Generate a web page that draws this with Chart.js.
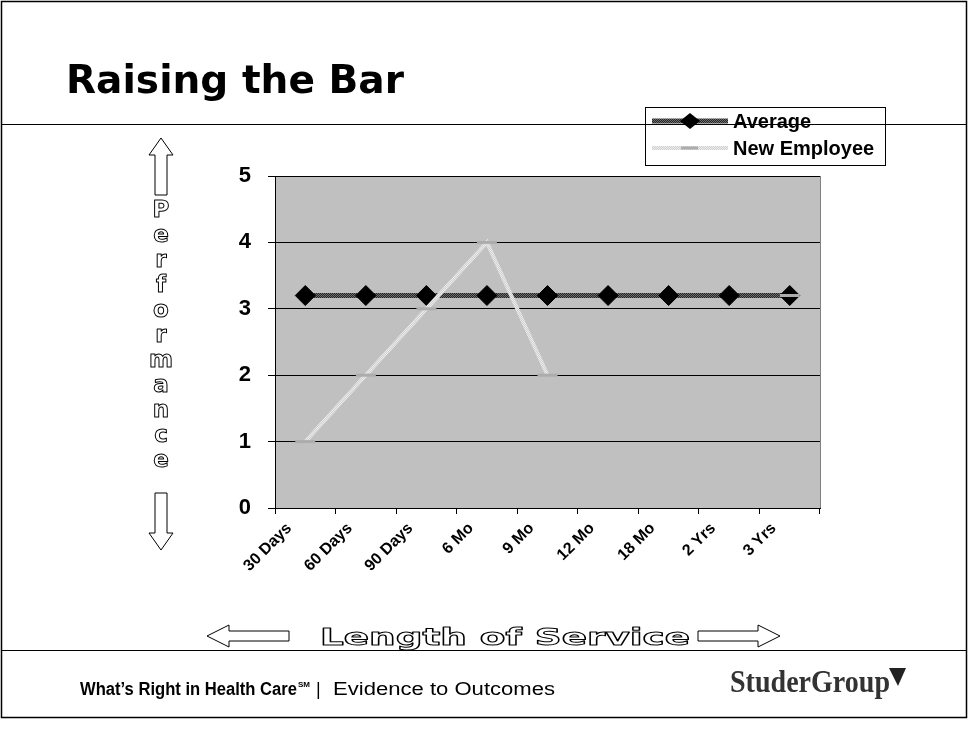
<!DOCTYPE html>
<html>
<head>
<meta charset="utf-8">
<title>Raising the Bar</title>
<script src="https://cdn.jsdelivr.net/npm/chart.js@4.4.0/dist/chart.umd.min.js"></script>
<style>
  html, body { margin: 0; padding: 0; background: #fff; }
  canvas { display: block; }
</style>
</head>
<body>
<canvas id="myChart" width="969" height="729"></canvas>
<script>
// service periods and performance scores
const periods = ['30 Days', '60 Days', '90 Days', '6 Mo', '9 Mo', '12 Mo', '18 Mo', '2 Yrs', '3 Yrs'];
const averageScores = [3.2, 3.2, 3.2, 3.2, 3.2, 3.2, 3.2, 3.2, 3.2];
const newEmployeeScores = [1, 2, 3, 4, 2, null, null, null, 3.2];
const performanceTicks = [0, 1, 2, 3, 4, 5];

const SANS = '"Liberation Sans", Arial, sans-serif';
const WIDE = '"DejaVu Sans", sans-serif';

function checker(c1, c2) {
    const p = document.createElement('canvas');
    p.width = 2; p.height = 2;
    const g = p.getContext('2d');
    g.fillStyle = c1; g.fillRect(0, 0, 2, 2);
    g.fillStyle = c2; g.fillRect(0, 0, 1, 1); g.fillRect(1, 1, 1, 1);
    return g.createPattern(p, 'repeat');
}

const avgStroke = checker('#262626', '#6e6e6e');
const newStroke = checker('#d0d0d0', '#ececec');

// text squeezed or stretched to a given width
function fitText(ctx, text, x, y, font, width) {
    ctx.save();
    ctx.font = font;
    ctx.translate(x, y);
    if (width) ctx.scale(width / ctx.measureText(text).width, 1);
    ctx.fillText(text, 0, 0);
    ctx.restore();
}

function outlineText(ctx, text, x, y, font, width) {
    ctx.save();
    ctx.font = font;
    ctx.translate(x, y);
    if (width) ctx.scale(width / ctx.measureText(text).width, 1);
    ctx.lineJoin = 'round';
    ctx.fillStyle = '#fff';
    ctx.strokeStyle = '#000';
    ctx.lineWidth = 1;
    ctx.fillText(text, 0, 0);
    ctx.strokeText(text, 0, 0);
    ctx.restore();
}

// hollow block arrow; tip at (tx,ty), tail at distance len behind it
function blockArrow(ctx, tx, ty, dir, len, shaft, head, headLen) {
    const pts = [[0, 0], [headLen, head], [headLen, shaft], [len, shaft],
                 [len, -shaft], [headLen, -shaft], [headLen, -head]];
    ctx.save();
    ctx.translate(tx, ty);
    const ang = { left: 0, right: Math.PI, up: Math.PI / 2, down: -Math.PI / 2 }[dir];
    ctx.rotate(ang);
    ctx.beginPath();
    pts.forEach((p, i) => i ? ctx.lineTo(p[0], p[1]) : ctx.moveTo(p[0], p[1]));
    ctx.closePath();
    ctx.fillStyle = '#fff';
    ctx.fill();
    ctx.strokeStyle = '#000';
    ctx.lineWidth = 1;
    ctx.stroke();
    ctx.restore();
}

function drawLegend(ctx, chart) {
    const x0 = 645.5, y0 = 107.5, w = 240, h = 58;
    ctx.fillStyle = '#fff';
    ctx.fillRect(x0, y0, w, h);
    ctx.strokeStyle = '#000';
    ctx.lineWidth = 1;
    ctx.strokeRect(x0, y0, w, h);

    const rows = [121, 148];
    chart.data.datasets.forEach((ds, i) => {
        const y = rows[i];
        ctx.save();
        ctx.strokeStyle = ds.borderColor;
        ctx.lineWidth = ds.borderWidth;
        ctx.beginPath();
        ctx.moveTo(652, y);
        ctx.lineTo(728, y);
        ctx.stroke();
        if (ds.pointStyle === 'rectRot') {
            ctx.fillStyle = '#000';
            ctx.beginPath();
            ctx.moveTo(680, y); ctx.lineTo(690, y - 8); ctx.lineTo(700, y); ctx.lineTo(690, y + 8);
            ctx.closePath();
            ctx.fill();
        } else {
            ctx.strokeStyle = ds.pointBorderColor;
            ctx.lineWidth = ds.pointBorderWidth;
            ctx.beginPath();
            ctx.moveTo(681, y); ctx.lineTo(698, y);
            ctx.stroke();
        }
        ctx.fillStyle = '#000';
        ctx.font = 'bold 20px ' + SANS;
        ctx.textBaseline = 'middle';
        ctx.textAlign = 'left';
        ctx.fillText(ds.label, 733, y + 1);
        ctx.restore();
    });
}

const slidePlugin = {
    id: 'slide',
    beforeDraw(chart) {
        const ctx = chart.ctx;
        const a = chart.chartArea;
        ctx.save();
        ctx.fillStyle = '#fff';
        ctx.fillRect(0, 0, chart.width, chart.height);
        ctx.fillStyle = '#c0c0c0';
        ctx.fillRect(a.left, a.top, a.right - a.left, a.bottom - a.top);
        ctx.restore();
    },
    afterDraw(chart) {
        const ctx = chart.ctx;
        const a = chart.chartArea;
        ctx.save();

        // right edge of plot area
        ctx.strokeStyle = '#808080';
        ctx.lineWidth = 1;
        ctx.beginPath();
        ctx.moveTo(a.right + 0.5, a.top);
        ctx.lineTo(a.right + 0.5, a.bottom);
        ctx.stroke();

        // title
        ctx.fillStyle = '#000';
        ctx.textBaseline = 'alphabetic';
        fitText(ctx, 'Raising the Bar', 66, 93, 'bold 39px ' + WIDE, 338);

        drawLegend(ctx, chart);

        // slide frame and rules
        ctx.strokeStyle = '#000';
        ctx.lineWidth = 1;
        ctx.beginPath();
        ctx.moveTo(2, 124.5); ctx.lineTo(966, 124.5);
        ctx.moveTo(2, 650.5); ctx.lineTo(966, 650.5);
        ctx.stroke();
        ctx.lineWidth = 1.5;
        ctx.strokeRect(1.5, 1.5, 965, 716);

        // vertical axis caption
        blockArrow(ctx, 161, 138, 'up', 57, 6, 12, 17);
        blockArrow(ctx, 161, 550, 'down', 57, 6, 12, 17);
        ctx.textAlign = 'center';
        ctx.textBaseline = 'middle';
        'Performance'.split('').forEach((ch, i) => {
            outlineText(ctx, ch, 161, 211 + i * 25, 'bold 23px ' + WIDE);
        });

        // horizontal axis caption
        blockArrow(ctx, 207, 636, 'left', 82, 5, 11, 22);
        blockArrow(ctx, 780, 636, 'right', 82, 5, 11, 22);
        ctx.textAlign = 'left';
        ctx.textBaseline = 'alphabetic';
        outlineText(ctx, 'Length of Service', 320, 645, 'bold 23px ' + WIDE, 370);

        // footer
        ctx.fillStyle = '#000';
        fitText(ctx, 'What\u2019s Right in Health Care', 80, 695, 'bold 18px ' + SANS, 217);
        ctx.font = 'bold 8px ' + SANS;
        ctx.fillText('SM', 298, 687);
        ctx.font = '18px ' + SANS;
        ctx.fillText('|', 316, 695);
        fitText(ctx, 'Evidence to Outcomes', 333, 695, '18px ' + SANS, 222);

        // logo wordmark
        ctx.fillStyle = '#333';
        fitText(ctx, 'StuderGroup', 730, 692, 'bold 31px "Liberation Serif", serif', 160);
        ctx.fillStyle = '#222';
        ctx.beginPath();
        ctx.moveTo(889, 668); ctx.lineTo(906, 668); ctx.lineTo(898, 686);
        ctx.closePath();
        ctx.fill();

        ctx.restore();
    }
};

new Chart(document.getElementById('myChart'), {
    type: 'line',
    data: {
        labels: periods,
        datasets: [{
            label: 'Average',
            data: averageScores,
            borderColor: avgStroke,
            borderWidth: 5,
            pointStyle: 'rectRot',
            pointRadius: 10,
            pointBackgroundColor: '#000',
            pointBorderColor: '#000',
            pointBorderWidth: 1,
            order: 1
        }, {
            label: 'New Employee',
            data: newEmployeeScores,
            borderColor: newStroke,
            borderWidth: 4,
            pointStyle: 'line',
            pointRadius: 10,
            pointBorderColor: '#acacac',
            pointBorderWidth: 3,
            spanGaps: false,
            order: 0
        }]
    },
    options: {
        responsive: false,
        animation: false,
        events: [],
        layout: { padding: { left: 215, top: 176, right: 149, bottom: 101 } },
        plugins: { legend: { display: false }, tooltip: { enabled: false } },
        scales: {
            x: {
                offset: true,
                grid: { offset: true, drawOnChartArea: false, drawTicks: true, tickLength: 6, color: '#000' },
                border: { display: true, color: '#000', width: 1 },
                ticks: {
                    color: '#000',
                    font: { family: SANS, size: 16, weight: 'bold' },
                    minRotation: 45,
                    maxRotation: 45,
                    autoSkip: false,
                    labelOffset: -16,
                    padding: 5
                },
                afterFit(scale) { scale.height = 120; }
            },
            y: {
                min: 0,
                max: 5,
                afterBuildTicks(scale) { scale.ticks = performanceTicks.map(v => ({ value: v })); },
                grid: { color: '#000', lineWidth: 1, drawTicks: true, tickLength: 7 },
                border: { display: true, color: '#000', width: 1 },
                ticks: {
                    color: '#000',
                    font: { family: SANS, size: 22, weight: 'bold' },
                    padding: 17
                },
                afterFit(scale) { scale.width = 60; }
            }
        }
    },
    plugins: [slidePlugin]
});
</script>
</body>
</html>
